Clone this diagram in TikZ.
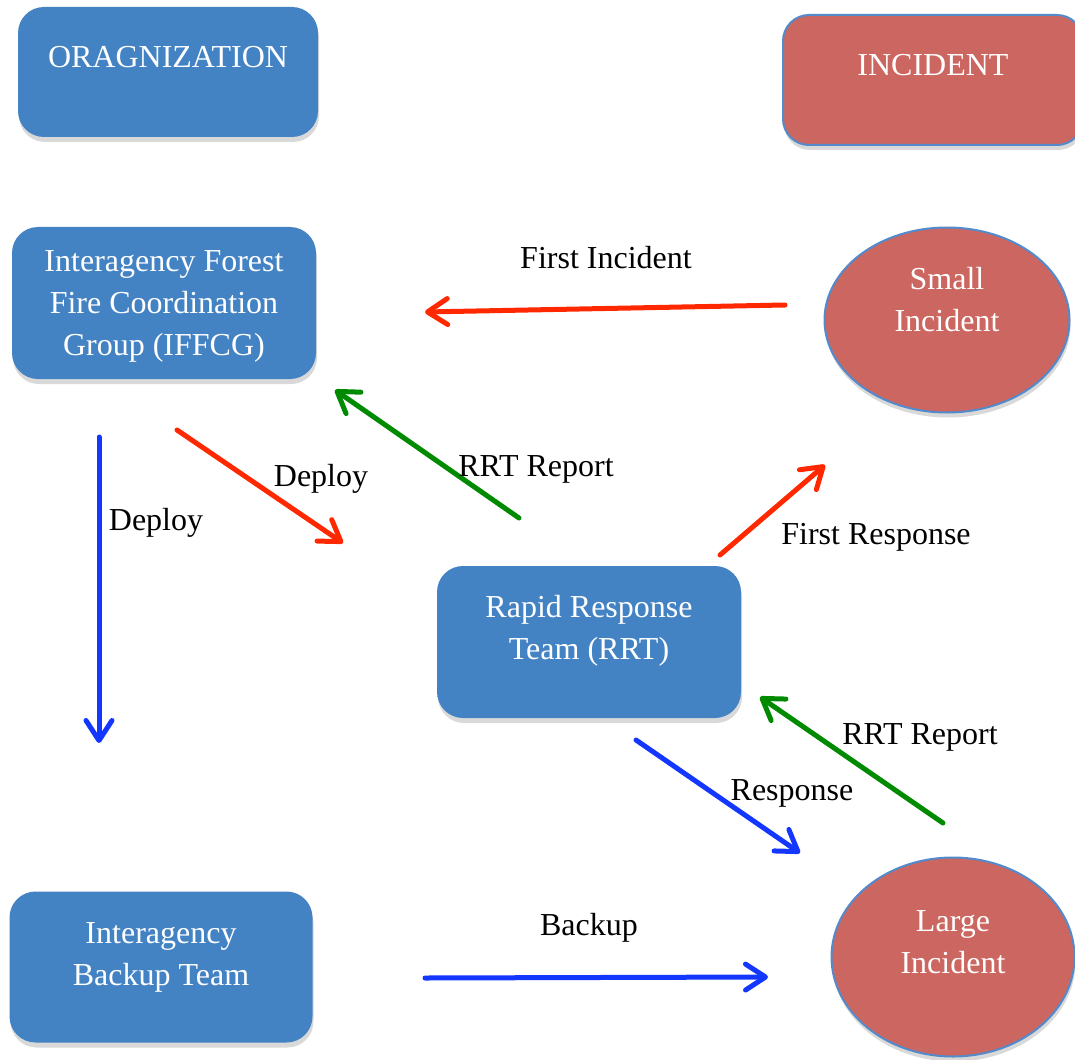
\documentclass[tikz,border=0pt]{standalone}
\usepackage{fontspec}
\setmainfont{Liberation Serif}
\usetikzlibrary{arrows.meta,shapes,shadows}
\definecolor{orgblue}{RGB}{68,131,195}
\definecolor{incred}{RGB}{204,102,96}
\definecolor{incborder}{RGB}{82,138,204}
\definecolor{flowred}{RGB}{255,40,0}
\definecolor{flowgreen}{RGB}{0,138,0}
\definecolor{flowblue}{RGB}{20,55,255}
\tikzstyle{orgbox}=[rectangle,rounded corners=26pt,fill=orgblue,text=white,minimum width=304pt,minimum height=152pt,align=center,drop shadow={shadow xshift=1pt,shadow yshift=-5pt,opacity=.3}]
\tikzstyle{incbox}=[orgbox,fill=incred,draw=incborder,line width=2pt]
\tikzstyle{incoval}=[ellipse,fill=incred,draw=incborder,line width=2pt,text=white,align=center,inner sep=0pt,drop shadow={shadow xshift=1pt,shadow yshift=-5pt,opacity=.3}]
\tikzstyle{edge} = [draw,line width=5pt,line cap=round,-{Straight Barb[length=20pt,width=26pt,round]}]
\tikzstyle{weight} = [text=black]

\begin{document}
\begin{tikzpicture}[x=1pt,y=-1pt,font=\fontsize{32}{42}\selectfont]

    \useasboundingbox (0,0) rectangle (1075,1059);

    % organization side
    \node[orgbox, minimum width=300pt, minimum height=130pt, text depth=30pt] (org) at (168,72) {ORAGNIZATION};
    \node[orgbox, text depth=-8pt] (iffcg) at (164,303) {Interagency Forest\\Fire Coordination\\Group (IFFCG)};
    \node[orgbox, text depth=29pt] (rrt) at (589,642) {Rapid Response\\Team (RRT)};
    \node[orgbox, minimum width=303pt, minimum height=151pt, text depth=25pt] (backup) at (161,967) {Interagency\\Backup Team};

    % incident side
    \node[incbox, minimum width=300pt, minimum height=130pt, text depth=30pt] (inc) at (933,80) {INCIDENT};
    \node[incoval, minimum width=245pt, minimum height=185pt, text depth=41pt] (small) at (947,320) {Small\\Incident};
    \node[incoval, minimum width=243pt, minimum height=199pt, text depth=29pt] (large) at (953,957) {Large\\Incident};

    % arrow ends
    \foreach \x/\y/\name in {785/305/fiA, 425/312/fiB, 519/518/rtA, 335/390/rtB,
                             177/430/dpA, 343/543/dpB, 99/437/dbA, 99/743/dbB,
                             720/555/frA, 825/465/frB, 943/823/rlA, 760/697/rlB,
                             636/740/rsA, 800/853/rsB, 425/978/bkA, 768/977/bkB}
        \coordinate (\name) at (\x,\y);

    \foreach \source/ \dest /\col in {fiA/fiB/flowred, rtA/rtB/flowgreen, dpA/dpB/flowred,
                                      dbA/dbB/flowblue, frA/frB/flowred, rlA/rlB/flowgreen,
                                      rsA/rsB/flowblue, bkA/bkB/flowblue}
        \path[edge, draw=\col] (\source) -- (\dest);

    % labels
    \foreach \x/\y/\name/\txt in {606/258/lfirst/First Incident, 536/469/lreporta/RRT Report,
                                  321/479/ldeploya/Deploy, 156/523/ldeployb/Deploy,
                                  876/537/lresponse/First Response, 920/737/lreportb/RRT Report,
                                  792/793/lresp/Response, 589/928/lbackup/Backup}
        \node[weight] (\name) at (\x,\y) {\txt};

\end{tikzpicture}
\end{document}
